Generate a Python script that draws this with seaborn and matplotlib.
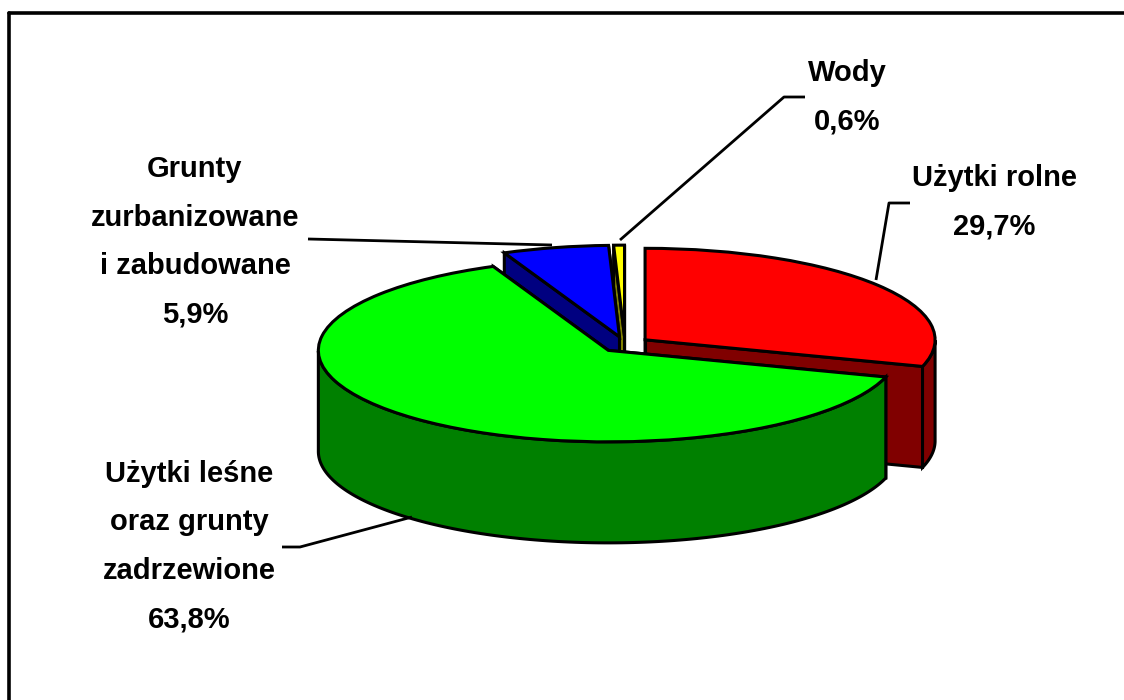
import numpy as np
import matplotlib
matplotlib.use("Agg")
import matplotlib.pyplot as plt
import seaborn as sns

categories = ["Użytki rolne", "Użytki leśne\noraz grunty\nzadrzewione",
              "Grunty\nzurbanizowane\ni zabudowane", "Wody"]
shares = [29.7, 63.8, 5.9, 0.6]
value_labels = ["29,7%", "63,8%", "5,9%", "0,6%"]

top_colors = ["#ff0000", "#00ff00", "#0000ff", "#ffff00"]
side_colors = ["#800000", "#008000", "#000080", "#808000"]

# pixel layout of the picture
W, H = 1124, 700
RX = 290.0
SQUASH = 3.17        # circle in data units -> ellipse on screen
DEPTH = 101
CENTER = (625, 344.5)
EXPLODE = 25.0       # pie() takes this in data units, not as a share of the radius

sns.set_theme(style="white")
plt.rcParams["font.family"] = ["Liberation Sans", "DejaVu Sans"]

fig = plt.figure(figsize=(W / 100, H / 100), dpi=100)
ax = fig.add_axes([0, 0, 1, 1])

# y data runs upward, stretched by SQUASH so the round pie shows as an ellipse
def ypx(py):
    return (H - py) * SQUASH

wedges, _ = ax.pie(shares, explode=[EXPLODE] * 4, colors=top_colors, radius=RX,
                   center=(CENTER[0], ypx(CENTER[1])), startangle=90, counterclock=False,
                   wedgeprops={"edgecolor": "black", "linewidth": 2.2})
ax.set_aspect("auto")
ax.set_xlim(0, W)
ax.set_ylim(0, H * SQUASH)
ax.axis("off")

drop = DEPTH * SQUASH
# painter's order, back slices first
for order, i in enumerate([3, 2, 0, 1]):
    w = wedges[i]
    cx, cy = w.center
    z = 3 + order * 2
    w.set_zorder(z + 1)
    for ang in (w.theta1, w.theta2):
        ex = cx + w.r * np.cos(np.radians(ang))
        ey = cy + w.r * np.sin(np.radians(ang))
        ax.fill([cx, ex, ex, cx], [cy, ey, ey - drop, cy - drop], facecolor=side_colors[i],
                edgecolor="black", linewidth=2.2, zorder=z)
    # outer wall, only the part of the rim that faces the viewer
    a1 = w.theta1 % 360
    a2 = a1 + (w.theta2 - w.theta1)
    t = np.radians(np.linspace(a1, a2, 200))
    t = t[np.sin(t) <= 0]
    if len(t) > 1:
        rx = cx + w.r * np.cos(t)
        ry = cy + w.r * np.sin(t)
        ax.fill(np.r_[rx, rx[::-1]], np.r_[ry, ry[::-1] - drop], facecolor=side_colors[i],
                edgecolor="black", linewidth=2.2, zorder=z)

# text blocks: centre x, middle of first line
line_h = 48.5
label_pos = {0: (994, 178), 1: (189, 474), 2: (195, 169), 3: (847, 73)}
leaders = {
    0: [(910, 203), (889, 203), (876, 280)],
    1: [(282, 547), (300, 547), (412, 517)],
    2: [(308, 239), (552, 245)],
    3: [(805, 97), (784, 97), (620, 240)],
}
for i, name in enumerate(categories):
    lines = name.split("\n") + [value_labels[i]]
    x, y0 = label_pos[i]
    for n, line in enumerate(lines):
        ax.text(x, ypx(y0 + n * line_h), line, ha="center", va="center", fontsize=21,
                fontweight="bold", color="black", zorder=30)
    pts = leaders[i]
    ax.plot([p[0] for p in pts], [ypx(p[1]) for p in pts], color="black", lw=2, zorder=30,
            solid_capstyle="butt")

# frame: only the top and left edges are drawn in the picture
ax.plot([9, W], [ypx(13), ypx(13)], color="black", lw=2.6, zorder=40, clip_on=False)
ax.plot([9, 9], [ypx(13), ypx(H)], color="black", lw=2.6, zorder=40, clip_on=False)

fig.savefig("out.png", dpi=100, facecolor="white")
